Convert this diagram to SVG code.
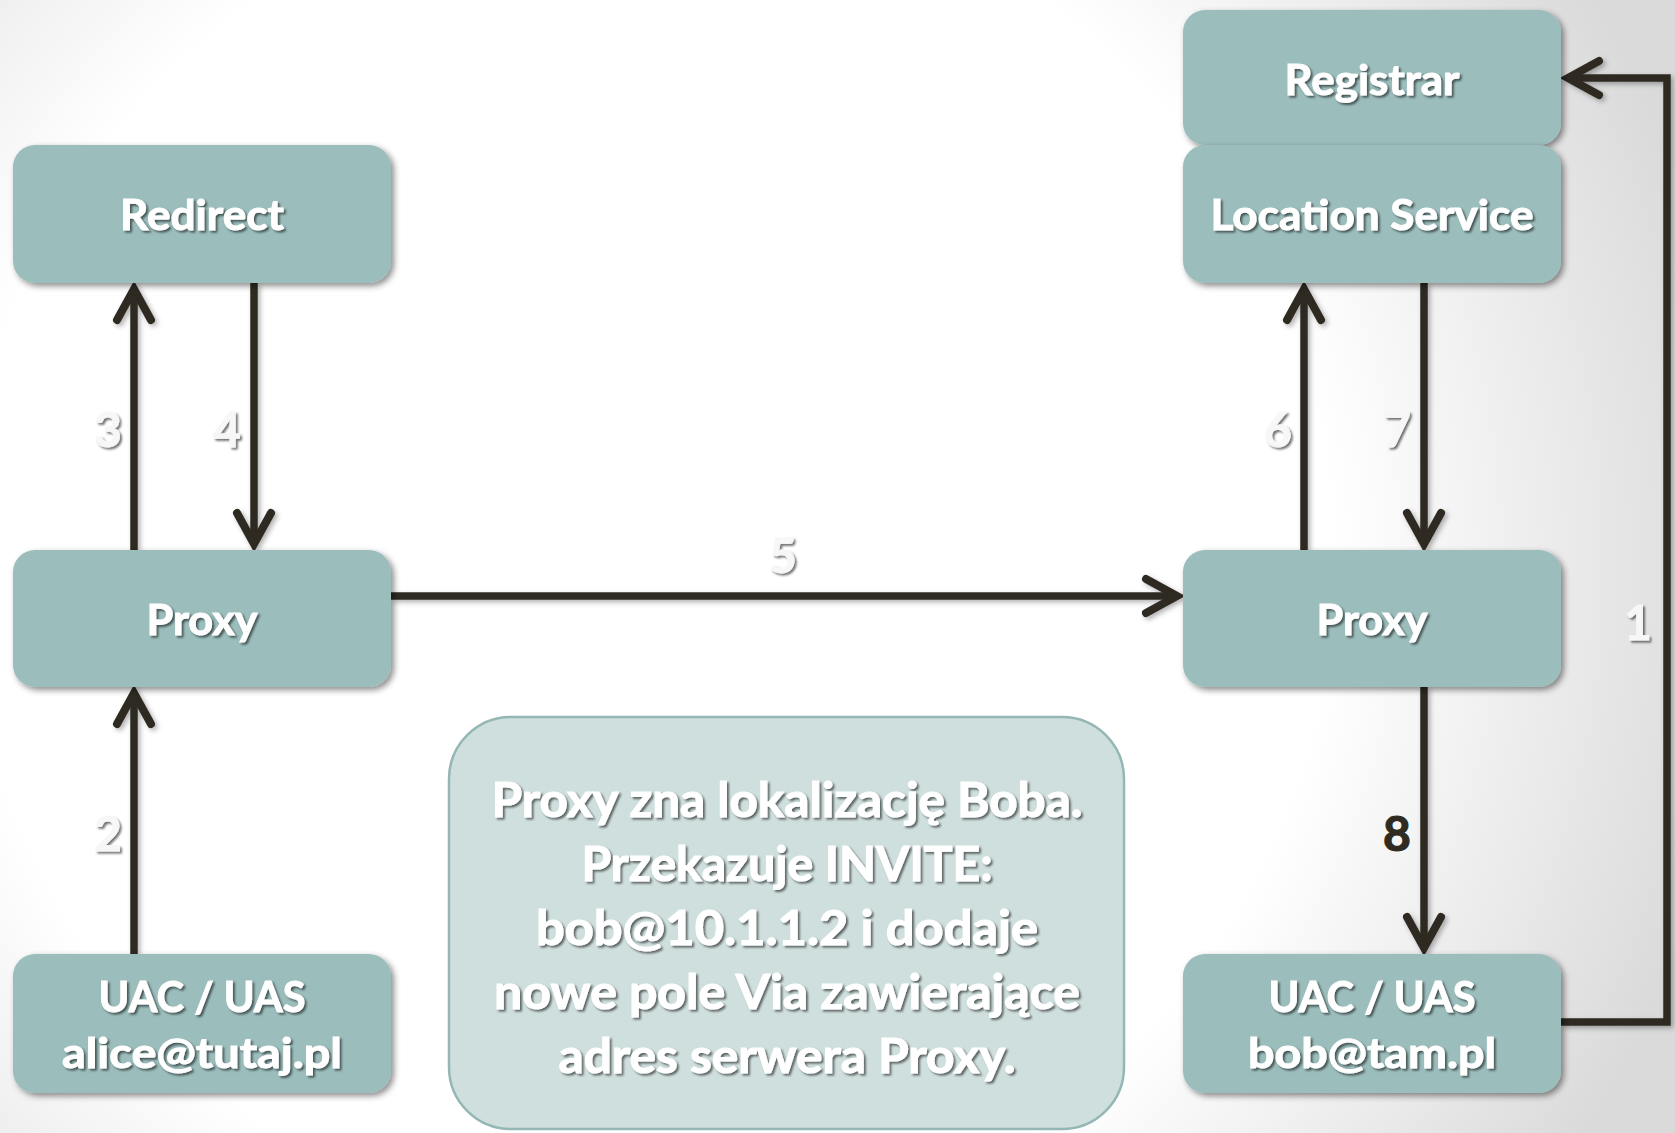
<svg xmlns="http://www.w3.org/2000/svg" width="1675" height="1133" viewBox="0 0 1675 1133">
  <defs>
    <radialGradient id="bg" gradientUnits="userSpaceOnUse" cx="650" cy="560" r="1100">
      <stop offset="0" stop-color="#ffffff"/>
      <stop offset="0.62" stop-color="#ffffff"/>
      <stop offset="1" stop-color="#dadada"/>
    </radialGradient>
    <filter id="boxShadow" x="-10%" y="-10%" width="125%" height="130%">
      <feDropShadow dx="3" dy="3" stdDeviation="3" flood-color="#000" flood-opacity="0.45"/>
    </filter>
    <filter id="lineShadow" x="-20%" y="-20%" width="140%" height="140%">
      <feDropShadow dx="2.5" dy="2.5" stdDeviation="2.5" flood-color="#000" flood-opacity="0.3"/>
    </filter>
    <filter id="textShadow" x="-10%" y="-20%" width="120%" height="150%">
      <feDropShadow dx="2" dy="2" stdDeviation="1.2" flood-color="#000" flood-opacity="0.55"/>
    </filter>
    <marker id="chevron" markerUnits="userSpaceOnUse" markerWidth="40" markerHeight="40" orient="auto" overflow="visible">
      <path d="M-31,-17 L0,0 L-31,17" fill="none" stroke="#2f2b21" stroke-width="8" stroke-linecap="round" stroke-linejoin="miter"/>
    </marker>
    <style>
      .node rect { fill: #9bbdbc; filter: url(#boxShadow); }
      .lbl { font-family: Lato, "Open Sans", "Liberation Sans", sans-serif; font-weight: bold; font-size: 42px; fill: #ffffff; stroke: #ffffff; stroke-width: 0.9px; text-anchor: middle; filter: url(#textShadow); }
      .note rect { fill: #cfdfde; stroke: #94b7b6; stroke-width: 2.5; }
      .noteTxt { font-family: Lato, "Open Sans", "Liberation Sans", sans-serif; font-weight: bold; font-size: 47px; fill: #ffffff; stroke: #ffffff; stroke-width: 1px; text-anchor: middle; filter: url(#textShadow); }
      .edge { fill: none; stroke: #2f2b21; stroke-width: 7.5; marker-end: url(#chevron); }
      .num { font-family: Lato, "Open Sans", "Liberation Sans", sans-serif; font-weight: bold; font-size: 48px; fill: #f7f7f7; stroke: #f7f7f7; stroke-width: 0.8px; text-anchor: middle; filter: url(#textShadow); }
      .num.dark { fill: #2f2b21; stroke: #2f2b21; stroke-width: 1.2px; filter: none; }
    </style>
  </defs>

  <!-- backdrop -->
  <rect x="0" y="0" width="1675" height="1133" fill="url(#bg)"/>

  <!-- note box -->
  <g id="note" class="note">
    <rect x="449" y="717" width="675" height="412" rx="62" ry="62"/>
    <text class="noteTxt" x="787" y="817" textLength="591" lengthAdjust="spacingAndGlyphs">Proxy zna lokalizację Boba.</text>
    <text class="noteTxt" x="787" y="881" textLength="411" lengthAdjust="spacingAndGlyphs">Przekazuje INVITE:</text>
    <text class="noteTxt" x="787" y="945" textLength="502" lengthAdjust="spacingAndGlyphs">bob@10.1.1.2 i dodaje</text>
    <text class="noteTxt" x="787" y="1009" textLength="586" lengthAdjust="spacingAndGlyphs">nowe pole Via zawierające</text>
    <text class="noteTxt" x="787" y="1073" textLength="457" lengthAdjust="spacingAndGlyphs">adres serwera Proxy.</text>
  </g>

  <!-- connectors -->
  <g id="connectors" filter="url(#lineShadow)">
    <path id="e1" class="edge" d="M1561,1022 H1667 V78 H1568"/>
    <path id="e2" class="edge" d="M134,954 V693"/>
    <path id="e3" class="edge" d="M134,550 V289"/>
    <path id="e4" class="edge" d="M254,283 V544"/>
    <path id="e5" class="edge" d="M391,596 H1177"/>
    <path id="e6" class="edge" d="M1304,550 V289"/>
    <path id="e7" class="edge" d="M1424,283 V544"/>
    <path id="e8" class="edge" d="M1424,687 V948"/>
  </g>

  <!-- step numbers -->
  <g id="steps">
    <text class="num" x="1638" y="640">1</text>
    <text class="num" x="108" y="851">2</text>
    <text class="num" x="108" y="447">3</text>
    <text class="num" x="227" y="447">4</text>
    <text class="num" x="783" y="573">5</text>
    <text class="num" x="1278" y="447">6</text>
    <text class="num" x="1397" y="447">7</text>
    <text class="num dark" x="1397" y="851">8</text>
  </g>

  <!-- nodes -->
  <g id="registrar" class="node">
    <rect x="1183" y="10" width="378" height="135" rx="22" ry="22"/>
    <text class="lbl" x="1372" y="95" textLength="175" lengthAdjust="spacingAndGlyphs">Registrar</text>
  </g>
  <g id="location-service" class="node">
    <rect x="1183" y="145" width="378" height="138" rx="22" ry="22"/>
    <text class="lbl" x="1372" y="230" textLength="323" lengthAdjust="spacingAndGlyphs">Location Service</text>
  </g>
  <g id="redirect" class="node">
    <rect x="13" y="145" width="378" height="138" rx="22" ry="22"/>
    <text class="lbl" x="202" y="230" textLength="164" lengthAdjust="spacingAndGlyphs">Redirect</text>
  </g>
  <g id="proxy-left" class="node">
    <rect x="13" y="550" width="378" height="137" rx="22" ry="22"/>
    <text class="lbl" x="202" y="635" textLength="111" lengthAdjust="spacingAndGlyphs">Proxy</text>
  </g>
  <g id="proxy-right" class="node">
    <rect x="1183" y="550" width="378" height="137" rx="22" ry="22"/>
    <text class="lbl" x="1372" y="635" textLength="111" lengthAdjust="spacingAndGlyphs">Proxy</text>
  </g>
  <g id="alice" class="node">
    <rect x="13" y="954" width="378" height="139" rx="22" ry="22"/>
    <text class="lbl" x="202" y="1012" textLength="207" lengthAdjust="spacingAndGlyphs">UAC / UAS</text>
    <text class="lbl" x="202" y="1068" textLength="280" lengthAdjust="spacingAndGlyphs">alice@tutaj.pl</text>
  </g>
  <g id="bob" class="node">
    <rect x="1183" y="954" width="378" height="139" rx="22" ry="22"/>
    <text class="lbl" x="1372" y="1012" textLength="207" lengthAdjust="spacingAndGlyphs">UAC / UAS</text>
    <text class="lbl" x="1372" y="1068" textLength="248" lengthAdjust="spacingAndGlyphs">bob@tam.pl</text>
  </g>
</svg>
